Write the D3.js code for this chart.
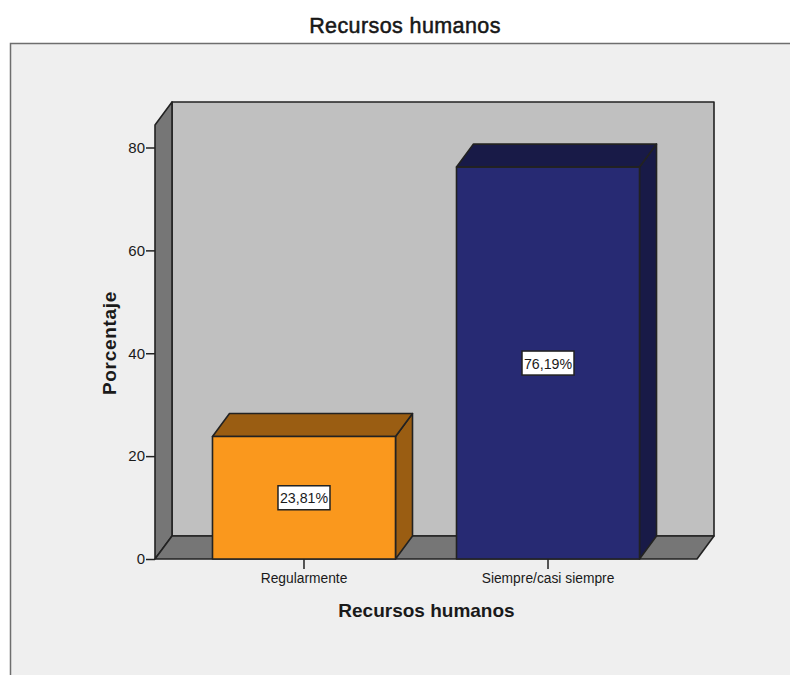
<!DOCTYPE html>
<html>
<head>
<meta charset="utf-8">
<script src="https://cdn.jsdelivr.net/npm/d3@7/dist/d3.min.js"></script>
<style>
html,body{margin:0;padding:0;background:#fff;}
svg{display:block;}
text{font-family:"Liberation Sans",Arial,sans-serif;fill:#1a1a1a;}
</style>
</head>
<body>
<svg id="chart" width="790" height="675"></svg>
<script>
// Chart content
const chartTitle = "Recursos humanos";
const xAxisTitle = "Recursos humanos";
const yAxisTitle = "Porcentaje";
const categories = ["Regularmente", "Siempre/casi siempre"];
const percentages = [23.81, 76.19];
const valueLabels = ["23,81%", "76,19%"];
const yTicks = [0, 20, 40, 60, 80];

// Face colours for each bar: front, then top and side
const frontColors = ["#fa981d", "#272a73"];
const shadeColors = ["#9a5d12", "#181a47"];

const svg = d3.select("#chart");
const ink = "#222";

// Oblique offset of the back plane
const depthX = 17, depthY = -23;

const x = d3.scaleBand().domain(categories).range([155, 697])
  .paddingInner(0.25).paddingOuter(0.2356);
const y = d3.scaleLinear().domain([0, 80]).range([559, 147.5]);
const yTop = 125; // front top edge of the 3D frame
const [xMin, xMax] = x.range();
const y0 = y(0);

const poly = (pts, fill, sw = 1.6) => svg.append("polygon")
  .attr("points", pts.map(p => p.join(",")).join(" "))
  .attr("fill", fill).attr("stroke", ink).attr("stroke-width", sw)
  .attr("stroke-linejoin", "round");

// Background panel with its top and left rules
svg.append("rect").attr("x", 10).attr("y", 43).attr("width", 780).attr("height", 632).attr("fill", "#efefef");
svg.append("path").attr("d", "M10.5,675V43.5H790").attr("fill", "none").attr("stroke", "#6e6e6e").attr("stroke-width", 1.5);

// Title
svg.append("text").attr("x", 405).attr("y", 33).attr("text-anchor", "middle")
  .style("font-size", "21.5px").style("letter-spacing", "0.4px")
  .style("stroke", "#111").style("stroke-width", 0.5)
  .text(chartTitle);

// 3D frame: back wall, left wall, floor
poly([[xMin + depthX, yTop + depthY], [xMax + depthX, yTop + depthY], [xMax + depthX, y0 + depthY], [xMin + depthX, y0 + depthY]], "#c0c0c0");
poly([[xMin, yTop], [xMin + depthX, yTop + depthY], [xMin + depthX, y0 + depthY], [xMin, y0]], "#767676");
poly([[xMin, y0], [xMin + depthX, y0 + depthY], [xMax + depthX, y0 + depthY], [xMax, y0]], "#767676");

// Bars: side, top and front faces
categories.forEach((c, i) => {
  const l = x(c), r = l + x.bandwidth(), t = y(percentages[i]);
  poly([[r, t], [r + depthX, t + depthY], [r + depthX, y0 + depthY], [r, y0]], shadeColors[i]);
  poly([[l, t], [l + depthX, t + depthY], [r + depthX, t + depthY], [r, t]], shadeColors[i]);
  poly([[l, t], [r, t], [r, y0], [l, y0]], frontColors[i]);
});

// Axes
const yAxis = svg.append("g").attr("transform", `translate(${xMin},0)`)
  .call(d3.axisLeft(y).tickValues(yTicks).tickFormat(d3.format("d")).tickSize(9).tickPadding(1));
yAxis.select(".domain").remove();
yAxis.selectAll("line").attr("stroke", ink).attr("stroke-width", 1.5);
yAxis.selectAll("text").style("font-size", "15px").style("font-family", "'Liberation Sans',Arial,sans-serif");

const xAxis = svg.append("g").attr("transform", `translate(0,${y0})`)
  .call(d3.axisBottom(x).tickSize(10).tickPadding(4));
xAxis.select(".domain").remove();
xAxis.selectAll("line").attr("stroke", ink).attr("stroke-width", 1.5);
xAxis.selectAll("text").style("font-size", "13.8px").style("font-family", "'Liberation Sans',Arial,sans-serif");

// Axis titles
svg.append("text").attr("x", 426.5).attr("y", 617).attr("text-anchor", "middle")
  .style("font-size", "19px").style("font-weight", "700").text(xAxisTitle);
svg.append("text").attr("transform", "translate(115.5,343) rotate(-90)").attr("text-anchor", "middle")
  .style("font-size", "19px").style("font-weight", "700").style("letter-spacing", "0.7px").text(yAxisTitle);

// Value labels centred on each bar's front face
categories.forEach((c, i) => {
  const cx = x(c) + x.bandwidth() / 2, cy = (y(percentages[i]) + y0) / 2;
  svg.append("rect").attr("x", cx - 26).attr("y", cy - 12).attr("width", 52).attr("height", 24)
    .attr("fill", "#fff").attr("stroke", "#222").attr("stroke-width", 1.5);
  svg.append("text").attr("x", cx).attr("y", cy + 5.5).attr("text-anchor", "middle")
    .style("font-size", "14.2px").text(valueLabels[i]);
});
</script>
</body>
</html>
